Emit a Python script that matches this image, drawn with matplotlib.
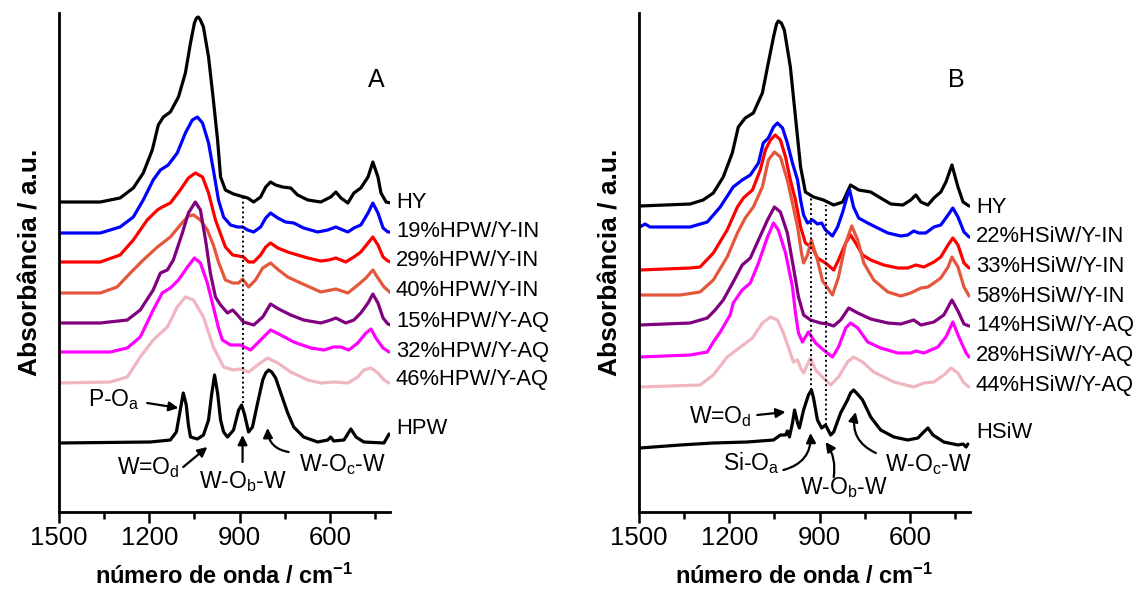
import matplotlib
matplotlib.use("Agg")
import matplotlib.pyplot as plt
import matplotlib.transforms as mtransforms

plt.rcParams['font.family'] = ['Liberation Sans', 'DejaVu Sans']
plt.rcParams['mathtext.fontset'] = 'custom'
plt.rcParams['mathtext.rm'] = 'Liberation Sans'
plt.rcParams['mathtext.bf'] = 'Liberation Sans:bold'
plt.rcParams['mathtext.it'] = 'Liberation Sans:italic'

# ---------------- Panel A data (wavenumber cm-1, absorbance a.u. incl. stacking) -------------
A_HY_wn = [1500, 1363, 1297, 1253, 1220, 1190, 1170, 1153, 1130, 1103, 1080, 1063, 1050, 1043, 1037, 1030, 1020, 1003, 987, 973, 963, 947, 920, 897, 873, 853, 830, 813, 797, 780, 757, 730, 707, 673, 630, 597, 580, 563, 540, 520, 497, 473, 457, 440, 430, 413, 397]
A_HY_val = [310, 310, 314, 324, 339, 362, 387, 395, 400, 415, 439, 469, 489, 494, 495, 492, 485, 455, 412, 372, 335, 322, 318, 316, 314, 310, 315, 325, 330, 327, 325, 324, 317, 312, 310, 315, 320, 314, 309, 319, 324, 335, 350, 335, 319, 310, 309]

A_19_wn = [1500, 1363, 1297, 1253, 1220, 1187, 1163, 1137, 1107, 1080, 1057, 1040, 1023, 1003, 987, 970, 953, 930, 907, 890, 873, 853, 830, 813, 797, 773, 747, 720, 687, 640, 607, 580, 557, 540, 520, 497, 473, 457, 440, 423, 407, 397]
A_19_val = [279, 279, 285, 295, 312, 332, 342, 347, 359, 379, 392, 395, 389, 369, 342, 312, 295, 287, 285, 285, 282, 280, 285, 294, 299, 294, 290, 289, 284, 280, 282, 285, 282, 280, 284, 287, 299, 309, 299, 284, 280, 280]

A_29_wn = [1500, 1363, 1297, 1253, 1207, 1173, 1157, 1130, 1097, 1070, 1047, 1023, 1003, 980, 963, 947, 923, 903, 887, 870, 853, 830, 813, 797, 773, 740, 707, 673, 630, 603, 580, 547, 520, 497, 473, 457, 440, 423, 407, 397]
A_29_val = [250, 250, 257, 272, 292, 302, 305, 309, 322, 334, 339, 335, 319, 292, 278, 265, 257, 256, 255, 250, 250, 257, 265, 269, 264, 260, 257, 254, 251, 252, 254, 250, 255, 260, 269, 275, 267, 255, 251, 250]

A_40_wn = [1500, 1363, 1307, 1263, 1220, 1173, 1130, 1097, 1070, 1053, 1030, 1007, 987, 970, 947, 923, 903, 890, 870, 847, 823, 797, 770, 740, 697, 630, 580, 540, 507, 480, 457, 440, 420, 397]
A_40_val = [219, 219, 225, 239, 252, 265, 275, 287, 296, 297, 292, 282, 267, 250, 232, 229, 229, 233, 225, 232, 244, 249, 242, 235, 229, 220, 223, 219, 227, 234, 242, 234, 225, 219]

A_15_wn = [1500, 1363, 1273, 1230, 1187, 1163, 1140, 1120, 1090, 1070, 1047, 1030, 1013, 997, 980, 963, 940, 923, 907, 887, 853, 823, 797, 770, 730, 687, 630, 597, 580, 547, 520, 497, 473, 457, 440, 423, 407, 397]
A_15_val = [189, 189, 192, 202, 222, 239, 242, 252, 279, 299, 310, 302, 272, 239, 215, 207, 199, 202, 197, 190, 187, 195, 208, 203, 197, 192, 189, 192, 194, 189, 192, 199, 209, 218, 209, 194, 188, 187]

A_32_wn = [1500, 1330, 1273, 1230, 1187, 1157, 1130, 1103, 1073, 1050, 1030, 1007, 987, 970, 957, 930, 897, 863, 830, 797, 763, 720, 663, 620, 587, 563, 537, 507, 480, 463, 447, 423, 403]
A_32_val = [160, 160, 164, 175, 202, 219, 224, 232, 245, 254, 249, 229, 205, 184, 172, 167, 167, 162, 172, 182, 177, 170, 164, 162, 165, 165, 162, 169, 179, 183, 174, 164, 160]

A_46_wn = [1500, 1330, 1273, 1230, 1187, 1140, 1107, 1080, 1053, 1020, 987, 953, 920, 897, 870, 840, 807, 773, 730, 673, 630, 587, 540, 507, 487, 463, 440, 420, 403]
A_46_val = [129, 130, 135, 155, 172, 185, 205, 215, 212, 195, 165, 145, 142, 143, 140, 147, 154, 149, 140, 132, 129, 130, 129, 135, 142, 144, 139, 132, 129]

A_HPW_wn = [1500, 1197, 1130, 1110, 1097, 1087, 1077, 1070, 1063, 1040, 1020, 1003, 993, 983, 973, 963, 953, 940, 920, 903, 893, 883, 870, 857, 840, 823, 813, 803, 793, 780, 763, 740, 720, 687, 640, 607, 597, 587, 553, 530, 513, 487, 420, 403]
A_HPW_val = [69, 70, 72, 80, 102, 119, 107, 87, 75, 73, 77, 92, 117, 137, 119, 92, 80, 75, 82, 102, 107, 97, 80, 85, 109, 132, 139, 142, 140, 134, 119, 99, 85, 75, 70, 72, 75, 71, 72, 83, 75, 70, 69, 78]

# ---------------- Panel B data -------------
B_HY_wn = [1497, 1330, 1287, 1253, 1220, 1190, 1170, 1147, 1120, 1090, 1073, 1053, 1043, 1037, 1027, 1017, 997, 980, 963, 947, 920, 887, 853, 823, 797, 770, 730, 697, 663, 623, 597, 580, 563, 540, 520, 497, 480, 460, 440, 423, 403]
B_HY_val = [306, 308, 312, 319, 335, 359, 385, 394, 399, 419, 445, 475, 488, 491, 489, 482, 445, 395, 345, 320, 315, 312, 307, 310, 327, 322, 320, 314, 308, 307, 312, 317, 310, 307, 314, 320, 330, 347, 325, 310, 306]

B_22_wn = [1497, 1480, 1463, 1330, 1273, 1230, 1187, 1157, 1130, 1103, 1087, 1070, 1053, 1040, 1023, 1007, 990, 973, 963, 953, 940, 923, 907, 893, 880, 857, 840, 823, 807, 800, 787, 770, 740, 707, 673, 630, 607, 587, 570, 547, 520, 497, 473, 457, 440, 420, 403]
B_22_val = [285, 288, 285, 285, 290, 305, 325, 332, 337, 349, 369, 374, 385, 389, 384, 369, 349, 332, 312, 297, 289, 292, 288, 289, 282, 276, 285, 300, 317, 322, 305, 294, 289, 284, 279, 276, 277, 281, 279, 279, 285, 287, 297, 304, 295, 280, 275]

B_33_wn = [1497, 1330, 1297, 1253, 1207, 1173, 1153, 1123, 1097, 1080, 1063, 1047, 1030, 1013, 997, 980, 963, 947, 923, 907, 880, 853, 837, 813, 797, 780, 757, 730, 687, 640, 607, 580, 553, 520, 497, 473, 457, 440, 420, 403]
B_33_val = [242, 244, 245, 259, 282, 305, 314, 322, 342, 362, 372, 377, 372, 355, 332, 312, 285, 269, 264, 254, 249, 242, 252, 269, 277, 269, 257, 252, 247, 244, 244, 247, 245, 250, 255, 267, 274, 267, 249, 244]

B_58_wn = [1497, 1363, 1297, 1253, 1207, 1173, 1147, 1120, 1090, 1070, 1050, 1030, 1007, 990, 973, 960, 953, 940, 927, 907, 890, 873, 857, 837, 813, 793, 773, 753, 720, 673, 630, 597, 563, 540, 520, 497, 473, 460, 440, 420, 403]
B_58_val = [217, 217, 220, 232, 255, 279, 294, 305, 325, 352, 360, 355, 332, 309, 285, 259, 249, 257, 272, 252, 231, 224, 217, 235, 269, 286, 272, 249, 232, 220, 216, 219, 224, 225, 229, 234, 245, 255, 245, 225, 216]

B_14_wn = [1497, 1330, 1273, 1247, 1220, 1187, 1157, 1130, 1103, 1073, 1050, 1030, 1007, 987, 970, 953, 930, 897, 873, 853, 830, 803, 773, 730, 673, 630, 587, 563, 520, 487, 460, 440, 420, 403]
B_14_val = [187, 189, 194, 202, 212, 230, 247, 254, 272, 292, 305, 300, 279, 245, 215, 197, 192, 189, 188, 186, 192, 204, 199, 193, 189, 188, 192, 187, 190, 197, 212, 201, 188, 186]

B_28_wn = [1497, 1330, 1273, 1253, 1230, 1197, 1187, 1157, 1130, 1103, 1073, 1053, 1037, 1013, 990, 980, 970, 957, 937, 913, 887, 857, 837, 813, 797, 773, 740, 697, 640, 597, 580, 553, 507, 480, 457, 437, 413, 403]
B_28_val = [155, 157, 160, 170, 180, 197, 209, 222, 229, 249, 275, 289, 282, 259, 225, 199, 179, 170, 180, 169, 162, 155, 165, 184, 189, 184, 170, 164, 159, 159, 161, 159, 165, 175, 190, 175, 159, 155]

B_44_wn = [1497, 1297, 1253, 1207, 1163, 1123, 1090, 1063, 1040, 1020, 997, 987, 973, 963, 953, 930, 913, 890, 863, 837, 807, 787, 757, 720, 653, 587, 553, 520, 487, 463, 440, 420, 403]
B_44_val = [125, 127, 137, 155, 165, 174, 189, 195, 192, 179, 159, 150, 152, 144, 139, 154, 142, 135, 127, 135, 150, 155, 150, 140, 130, 125, 129, 130, 137, 144, 139, 129, 125]

B_HSiW_wn = [1497, 1363, 1253, 1140, 1053, 1030, 1013, 1007, 1000, 990, 983, 973, 967, 953, 937, 927, 920, 907, 893, 880, 863, 853, 830, 807, 797, 787, 777, 757, 730, 697, 653, 607, 573, 557, 540, 523, 487, 440, 423, 413, 407]
B_HSiW_val = [64, 67, 69, 70, 72, 77, 77, 81, 75, 89, 102, 89, 84, 102, 117, 122, 114, 92, 84, 87, 77, 80, 99, 112, 119, 122, 119, 112, 95, 82, 75, 72, 74, 79, 84, 77, 70, 67, 68, 65, 68]

# series lists
A_series = [(A_HY_wn, A_HY_val), (A_19_wn, A_19_val), (A_29_wn, A_29_val), (A_40_wn, A_40_val),
            (A_15_wn, A_15_val), (A_32_wn, A_32_val), (A_46_wn, A_46_val), (A_HPW_wn, A_HPW_val)]
B_series = [(B_HY_wn, B_HY_val), (B_22_wn, B_22_val), (B_33_wn, B_33_val), (B_58_wn, B_58_val),
            (B_14_wn, B_14_val), (B_28_wn, B_28_val), (B_44_wn, B_44_val), (B_HSiW_wn, B_HSiW_val)]
A_labels = ['HY', '19%HPW/Y-IN', '29%HPW/Y-IN', '40%HPW/Y-IN', '15%HPW/Y-AQ', '32%HPW/Y-AQ', '46%HPW/Y-AQ', 'HPW']
B_labels = ['HY', '22%HSiW/Y-IN', '33%HSiW/Y-IN', '58%HSiW/Y-IN', '14%HSiW/Y-AQ', '28%HSiW/Y-AQ', '44%HSiW/Y-AQ', 'HSiW']
A_label_y = [310, 281, 251, 222, 190, 161, 132, 84]
B_label_y = [305, 276, 245, 216, 186, 157, 127, 80]
colors = ['#000000', '#0000FF', '#FF0000', '#E5573C', '#800080', '#FF00FF', '#F0B6C0', '#000000']
major_ticks = [1500, 1200, 900, 600]
minor_ticks = [1350, 1050, 750, 450]

W, H = 1146, 593
fig = plt.figure(figsize=(W / 100, H / 100), dpi=100)


def make_axes(left_px):
    ax = fig.add_axes([left_px / W, (H - 512) / H, 331 / W, 499 / H])
    ax.set_xlim(1500, 400)
    ax.set_ylim(0, 499)
    for s in ['top', 'right']:
        ax.spines[s].set_visible(False)
    for s in ['left', 'bottom']:
        ax.spines[s].set_linewidth(2.0)
    ax.set_yticks([])
    ax.set_xticks(major_ticks)
    ax.set_xticks(minor_ticks, minor=True)
    ax.set_xticklabels([str(t) for t in major_ticks])
    ax.tick_params(axis='x', which='major', direction='out', length=8, width=1.8, labelsize=18.5, pad=2)
    ax.tick_params(axis='x', which='minor', direction='out', length=5, width=1.8)
    ax.set_xlabel('número de onda / cm$^{\\mathbf{-1}}$', fontsize=17, fontweight='bold', labelpad=10)
    ax.set_ylabel('Absorbância / a.u.', fontsize=19, fontweight='bold', labelpad=12)
    return ax


def draw_panel(ax, series, labels, label_y, letter):
    for (wn, val), c in zip(series, colors):
        ax.plot(wn, val, color=c, lw=2.3, solid_joinstyle='round', solid_capstyle='round')
    trans = mtransforms.blended_transform_factory(ax.transAxes, ax.transData)
    for lab, y in zip(labels, label_y):
        ax.text(1.018, y, lab, transform=trans, fontsize=15.8, va='center', ha='left')
    ax.text(0.96, 432, letter, transform=trans, fontsize=18, va='center', ha='center')


def arrow(ax, tail, head, rad=0.0):
    ax.annotate('', xy=head, xytext=tail,
                arrowprops=dict(arrowstyle='-|>', color='k', lw=1.6, mutation_scale=14,
                                shrinkA=0, shrinkB=0, connectionstyle=f'arc3,rad={rad}'))


axA = make_axes(59)
draw_panel(axA, A_series, A_labels, A_label_y, 'A')
axA.plot([887, 887], [109, 315], color='k', lw=1.4, ls=(0, (1, 1.5)))
fs = 16.5
axA.text(1230, 112, 'P-O$_{\\mathrm{a}}$', fontsize=fs, ha='right', va='center')
arrow(axA, (1207, 109), (1103, 104))
axA.text(1203, 44, 'W=O$_{\\mathrm{d}}$', fontsize=fs, ha='center', va='center')
arrow(axA, (1087, 45), (1007, 65))
axA.text(890, 30, 'W-O$_{\\mathrm{b}}$-W', fontsize=fs, ha='center', va='center')
arrow(axA, (890, 50), (890, 77))
axA.text(557, 47, 'W-O$_{\\mathrm{c}}$-W', fontsize=fs, ha='center', va='center')
arrow(axA, (737, 60), (807, 84), rad=-0.4)

axB = make_axes(639)
draw_panel(axB, B_series, B_labels, B_label_y, 'B')
axB.plot([927, 927], [122, 315], color='k', lw=1.4, ls=(0, (1, 1.5)))
axB.plot([877, 877], [87, 307], color='k', lw=1.4, ls=(0, (1, 1.5)))
axB.text(1230, 95, 'W=O$_{\\mathrm{d}}$', fontsize=fs, ha='center', va='center')
arrow(axB, (1107, 97), (1013, 100))
axB.text(1127, 49, 'Si-O$_{\\mathrm{a}}$', fontsize=fs, ha='center', va='center')
arrow(axB, (1020, 42), (930, 79), rad=0.4)
axB.text(820, 24, 'W-O$_{\\mathrm{b}}$-W', fontsize=fs, ha='center', va='center')
arrow(axB, (853, 35), (880, 70), rad=0.2)
axB.text(537, 47, 'W-O$_{\\mathrm{c}}$-W', fontsize=fs, ha='center', va='center')
arrow(axB, (713, 59), (780, 100), rad=-0.4)

fig.savefig('out.png', dpi=100)
